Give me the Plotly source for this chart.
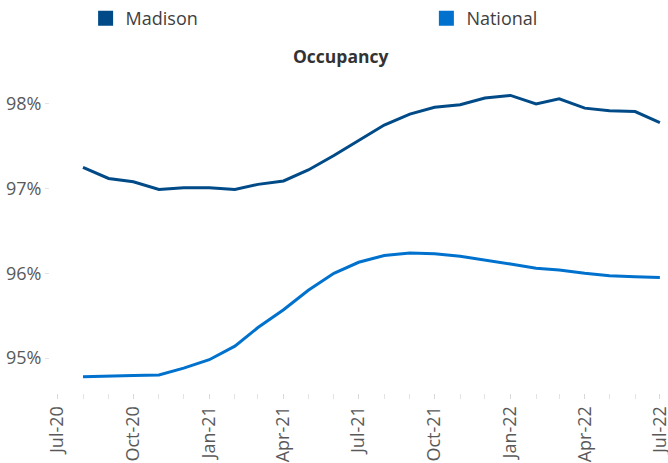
import plotly.graph_objects as go

months = ["2020-08-01", "2020-09-01", "2020-10-01", "2020-11-01", "2020-12-01",
          "2021-01-01", "2021-02-01", "2021-03-01", "2021-04-01", "2021-05-01",
          "2021-06-01", "2021-07-01", "2021-08-01", "2021-09-01", "2021-10-01",
          "2021-11-01", "2021-12-01", "2022-01-01", "2022-02-01", "2022-03-01",
          "2022-04-01", "2022-05-01", "2022-06-01", "2022-07-01"]

madison = [97.25, 97.12, 97.08, 96.99, 97.01, 97.01, 96.99, 97.05, 97.09, 97.22,
           97.39, 97.57, 97.75, 97.88, 97.96, 97.99, 98.07, 98.10, 98.00, 98.06,
           97.95, 97.92, 97.91, 97.78]

national = [94.78, 94.79, 94.795, 94.80, 94.88, 94.98, 95.14, 95.36, 95.57, 95.80,
            96.00, 96.13, 96.21, 96.24, 96.23, 96.20, 96.16, 96.11, 96.06, 96.04,
            96.00, 95.97, 95.96, 95.95]

tick_dates = ["2020-07-01", "2020-10-01", "2021-01-01", "2021-04-01", "2021-07-01",
              "2021-10-01", "2022-01-01", "2022-04-01", "2022-07-01"]
y_ticks = [95, 96, 97, 98]
y_labels = ["95%", "96%", "97%", "98%"]

c_mad = "#004B87"
c_nat = "#0072CE"
font = "Open Sans"

fig = go.Figure()
fig.add_trace(go.Scatter(x=months, y=madison, mode="lines", line=dict(color=c_mad, width=3),
                         showlegend=False, name="Madison"))
fig.add_trace(go.Scatter(x=months, y=national, mode="lines", line=dict(color=c_nat, width=3),
                         showlegend=False, name="National"))
# legend entries with square swatches
fig.add_trace(go.Scatter(x=[None], y=[None], mode="markers", name="Madison", legend="legend",
                         marker=dict(symbol="square", size=15, color=c_mad)))
fig.add_trace(go.Scatter(x=[None], y=[None], mode="markers", name="National", legend="legend2",
                         marker=dict(symbol="square", size=15, color=c_nat)))

leg_common = dict(orientation="h", yref="container", y=1.0, yanchor="top",
                  xanchor="left", font=dict(family=font, size=18, color="#404040"),
                  bgcolor="rgba(0,0,0,0)")

fig.update_layout(
    width=668, height=463,
    margin=dict(l=50, r=4, t=70, b=70),
    paper_bgcolor="white", plot_bgcolor="white",
    font=dict(family=font, size=18, color="#595959"),
    title=dict(text="<b>Occupancy</b>", x=0.51, xanchor="center", y=0.877, yanchor="middle",
               font=dict(family=font, size=17.5, color="#333333")),
    legend=dict(x=0.058, **leg_common),
    legend2=dict(x=0.613, **leg_common),
)

fig.update_xaxes(
    type="date", range=["2020-06-22", "2022-07-06"], automargin=False,
    tickvals=tick_dates, tickformat="%b-%y", tickangle=-90,
    ticks="outside", ticklen=5, tickcolor="#d9d9d9", tickwidth=1,
    ticklabeloverflow="allow", ticklabelshift=0,
    minor=dict(dtick="M1", tick0="2020-07-01", ticks="outside", ticklen=5, tickcolor="#e3e3e3"),
    showgrid=False, showline=False, zeroline=False,
    tickfont=dict(family=font, size=18, color="#595959"),
)
fig.update_yaxes(
    range=[94.587, 98.40], tickvals=y_ticks, ticktext=y_labels, automargin=False,
    ticks="outside", ticklen=4, tickcolor="#e3e3e3",
    showgrid=False, showline=False, zeroline=False,
    tickfont=dict(family=font, size=18, color="#595959"),
)

fig.write_html("out.html", config={"displayModeBar": False},
               post_script="document.body.style.margin='0';")
